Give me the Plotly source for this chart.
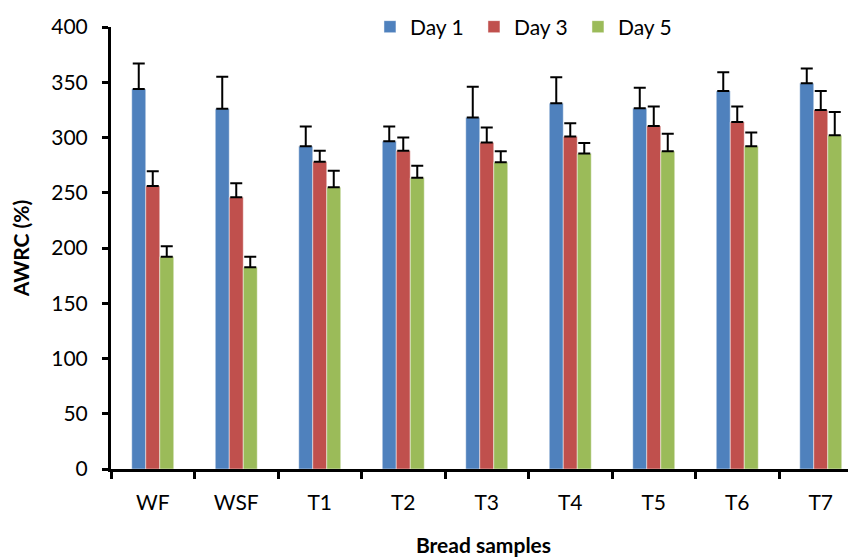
import plotly.graph_objects as go

samples = ["WF", "WSF", "T1", "T2", "T3", "T4", "T5", "T6", "T7"]
series_names = ["Day 1", "Day 3", "Day 5"]
day1 = [344, 326, 292, 296.5, 318, 331, 326.5, 342, 349]
day3 = [256, 246, 278, 288, 295.5, 301, 310.5, 314, 325]
day5 = [192, 182.5, 255, 263.5, 277.5, 285.5, 287.5, 292, 302]
day1_err = [23, 29, 18, 13.5, 28, 23.5, 18.5, 17, 13.5]
day3_err = [13.5, 12.5, 10, 12, 13.5, 12, 17.5, 14, 17]
day5_err = [9.5, 9.5, 15, 11, 10, 9.5, 16, 12.5, 21]

colors = ["#4F81BD", "#C0504D", "#9BBB59"]
font_family = "Lato, 'Open Sans', sans-serif"

fig = go.Figure()
for name, vals, errs, col in zip(series_names, [day1, day3, day5],
                                 [day1_err, day3_err, day5_err], colors):
    fig.add_trace(go.Bar(
        x=samples, y=vals, name=name,
        marker=dict(color=col, line=dict(color="rgba(255,255,255,0.6)", width=0.8)),
        error_y=dict(type="data", array=errs, symmetric=False,
                     arrayminus=[0] * len(errs), color="black",
                     thickness=2, width=6),
    ))

fig.update_layout(
    width=848, height=549,
    margin=dict(l=103, r=0, t=18.5, b=88, autoexpand=False),
    plot_bgcolor="white", paper_bgcolor="white",
    barmode="group", bargap=0.497, bargroupgap=0,
    font=dict(family=font_family, size=21, color="black"),
    showlegend=True,
    legend=dict(orientation="h", x=0.557, xanchor="center", y=1.0, yanchor="middle",
                font=dict(size=21), entrywidth=59, entrywidthmode="pixels",
                bgcolor="rgba(0,0,0,0)", traceorder="normal"),
    xaxis=dict(
        type="category", range=[-0.5, 8.422], automargin=False,
        showline=True, linecolor="black", linewidth=3,
        ticks="outside", tickson="boundaries", ticklen=7, tickwidth=3, tickcolor="black",
        tickfont=dict(size=21), ticklabelstandoff=13,
        title=dict(text="<b>Bread samples</b>", font=dict(size=21), standoff=33),
        showgrid=False, zeroline=False,
    ),
    yaxis=dict(
        range=[0, 400], dtick=50, automargin=False,
        showline=True, linecolor="black", linewidth=3,
        ticks="outside", ticklen=6, tickwidth=3, tickcolor="black",
        tickfont=dict(size=21), ticklabelstandoff=10,
        title=dict(text="<b>AWRC (%)</b>", font=dict(size=21), standoff=21),
        showgrid=False, zeroline=False,
    ),
)

fig.write_html("out.html")
